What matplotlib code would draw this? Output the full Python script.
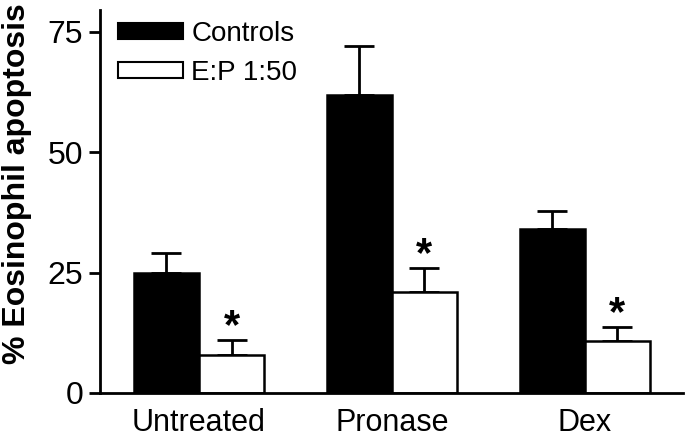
import numpy as np
import matplotlib
matplotlib.use("Agg")
import matplotlib.pyplot as plt
from matplotlib.patches import Rectangle

plt.rcParams['font.family'] = ['Liberation Sans', 'DejaVu Sans']

# data
groups = ["Untreated", "Pronase", "Dex"]
controls = [24.9, 61.8, 34.0]
controls_err = [4.1, 10.2, 3.8]
treated = [7.9, 21.0, 10.8]
treated_err = [3.1, 4.9, 2.9]
series_labels = ["Controls", "E:P 1:50"]
yticks = [0, 25, 50, 75]

fig = plt.figure(figsize=(6.85, 4.42), dpi=100)
ax = fig.add_axes([0.146, 0.111, 0.851, 0.866])

x = np.arange(len(groups))
w = 0.337

ax.bar(x - w / 2, controls, w, color="black", edgecolor="black", linewidth=1.8, zorder=2)
ax.bar(x + w / 2, treated, w, color="white", edgecolor="black", linewidth=1.8, zorder=2)

ax.errorbar(x - w / 2, controls, yerr=[np.zeros(3), controls_err], fmt="none",
            ecolor="black", elinewidth=2, capsize=10.8, capthick=2, zorder=1)
ax.errorbar(x + w / 2, treated, yerr=[np.zeros(3), treated_err], fmt="none",
            ecolor="black", elinewidth=2, capsize=10.8, capthick=2, zorder=1)

# significance stars
for xi, v, e in zip(x + w / 2, treated, treated_err):
    ax.text(xi, v + e - 1.5, "*", ha="center", va="bottom", fontsize=30, fontweight="bold")

ax.set_xlim(-0.513, 2.508)
ax.set_ylim(0, 79.5)
ax.set_yticks(yticks)
ax.set_xticks(x)
ax.set_xticklabels(groups, fontsize=22)
ax.tick_params(axis="x", length=0, pad=11)
ax.tick_params(axis="y", direction="out", length=8, width=2, labelsize=23, pad=4)

for s in ["top", "right"]:
    ax.spines[s].set_visible(False)
for s in ["left", "bottom"]:
    ax.spines[s].set_linewidth(2)

ax.set_ylabel("% Eosinophil apoptosis", fontsize=23, fontweight="bold")
ax.yaxis.set_label_coords(-0.117, 0.548)

handles = [Rectangle((0, 0), 1, 1, facecolor="black", edgecolor="black", linewidth=1.5),
           Rectangle((0, 0), 1, 1, facecolor="white", edgecolor="black", linewidth=1.5)]
ax.legend(handles, series_labels, loc="upper left", bbox_to_anchor=(-0.003, 1.022),
          frameon=False, fontsize=20, handlelength=2.35, handleheight=0.5,
          handletextpad=0.3, labelspacing=0.45, borderaxespad=0.3)

fig.savefig("out.png", dpi=100)
